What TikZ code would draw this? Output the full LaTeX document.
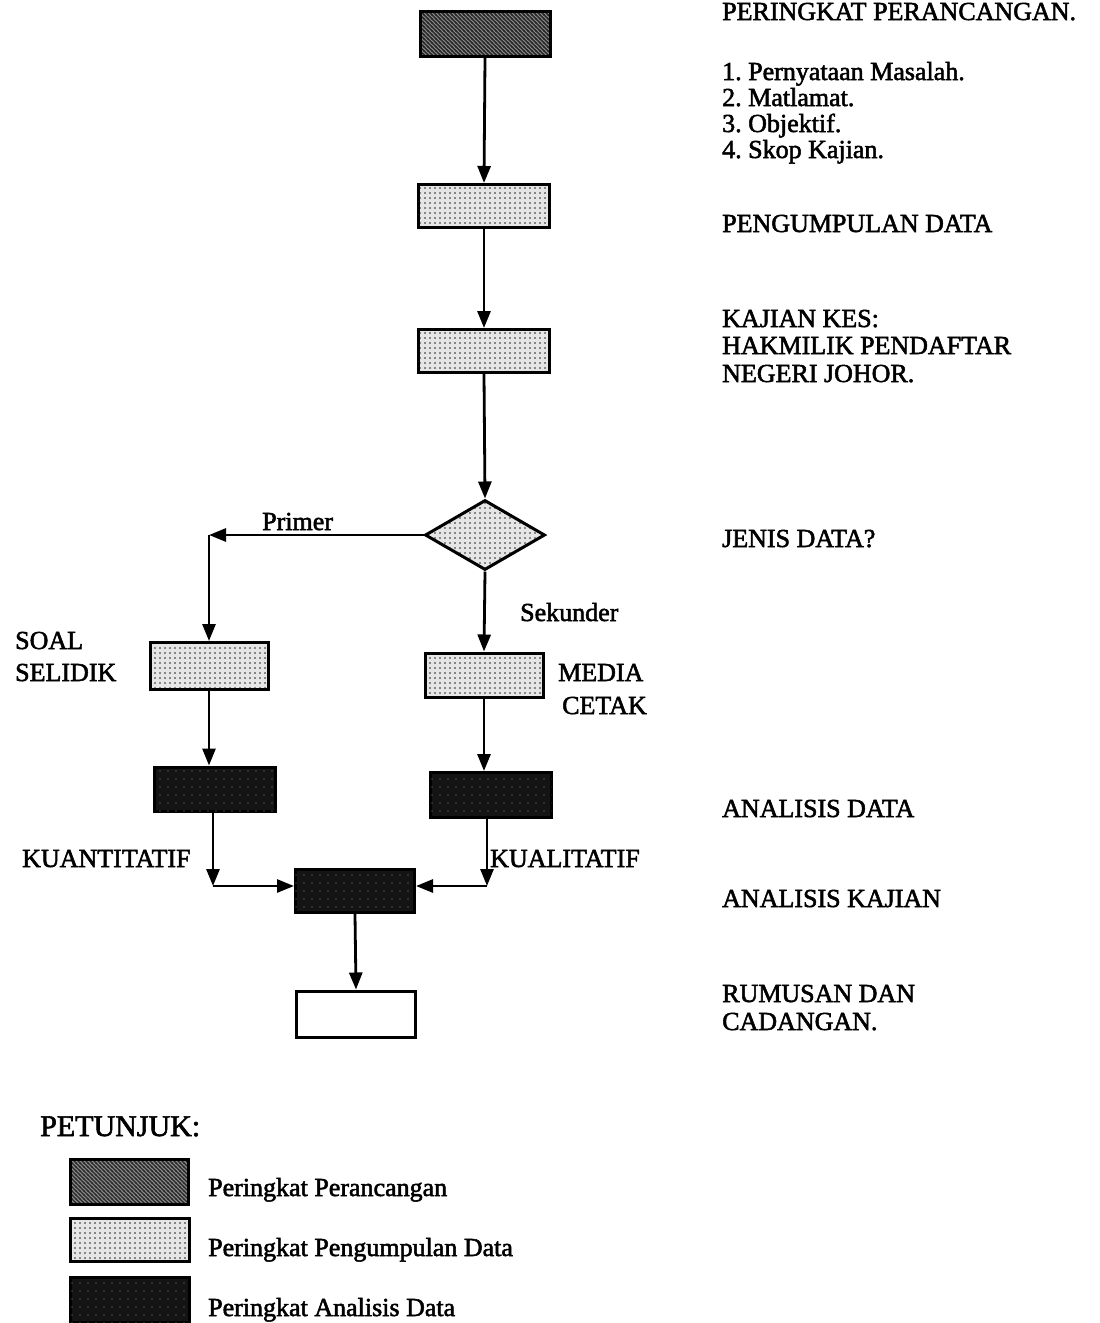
\documentclass[tikz,border=0pt]{standalone}
\usepackage{fontspec}
\setmainfont{Liberation Serif}[FakeBold=2]
\frenchspacing
\usetikzlibrary{shapes.geometric,patterns,arrows.meta,calc}
\pgfdeclarepatternformonly{sdots}{\pgfqpoint{-1pt}{-1pt}}{\pgfqpoint{1pt}{1pt}}{\pgfqpoint{5pt}{5pt}}{\pgfpathcircle{\pgfqpoint{0pt}{0pt}}{0.9pt}\pgfusepath{fill}}
\pgfdeclarepatternformonly{wdots}{\pgfqpoint{-1pt}{-1pt}}{\pgfqpoint{1pt}{1pt}}{\pgfqpoint{8pt}{8pt}}{\pgfpathcircle{\pgfqpoint{0pt}{0pt}}{0.7pt}\pgfusepath{fill}}
\pgfdeclarepatternformonly{hatch}{\pgfqpoint{-1pt}{-1pt}}{\pgfqpoint{5pt}{5pt}}{\pgfqpoint{4pt}{4pt}}{\pgfsetlinewidth{1.4pt}\pgfpathmoveto{\pgfqpoint{-1pt}{5pt}}\pgfpathlineto{\pgfqpoint{5pt}{-1pt}}\pgfusepath{stroke}}
\begin{document}
\begin{tikzpicture}[x=1pt,y=-1pt,
  txt/.style={inner sep=0pt, anchor=base west, font=\fontsize{26}{27}\selectfont},
  boxbase/.style={draw, line width=3pt, inner sep=0pt},
  hatchbox/.style={boxbase, preaction={fill=black!45}, pattern=hatch, pattern color=black!85},
  dotbox/.style={boxbase, preaction={fill=black!10}, pattern=sdots, pattern color=black!85},
  darkbox/.style={boxbase, fill=black!92, postaction={pattern=wdots, pattern color=black!45}},
  whitebox/.style={boxbase, fill=white},
  arr/.style={line width=2.8pt, -{Triangle[length=17pt,width=13pt]}}]
\useasboundingbox (0,0) rectangle (1100,1323);
\fill[white] (0,0) rectangle (1100,1323);

% flow boxes
\node[hatchbox, minimum width=130pt, minimum height=45pt] (top) at (485,34) {};
\node[dotbox, minimum width=131pt, minimum height=43pt] (b2) at (484,206) {};
\node[dotbox, minimum width=131pt, minimum height=43pt] (b3) at (484,351) {};
\node[dotbox, shape=diamond, minimum width=120pt, minimum height=70pt] (d) at (485,535) {};
\node[dotbox, minimum width=118pt, minimum height=47pt] (soal) at (209,666) {};
\node[dotbox, minimum width=118pt, minimum height=44pt] (media) at (484,675) {};
\node[darkbox, minimum width=121pt, minimum height=44pt] (a1) at (215,789) {};
\node[darkbox, minimum width=121pt, minimum height=45pt] (a2) at (491,795) {};
\node[darkbox, minimum width=119pt, minimum height=43pt] (ac) at (355,891) {};
\node[whitebox, minimum width=119pt, minimum height=46pt] (rum) at (356,1014) {};

\coordinate (p1) at (209,535);
\coordinate (q1) at (213,886);
\coordinate (q2) at (487,886);

% connectors
\draw[arr] (top.south) -- (b2.north);
\draw[arr] (b2.south) -- (b3.north);
\draw[arr] (b3.south) -- (d.north);
\draw[arr] (d.west) -- (p1);
\draw[arr] (p1) -- (soal.north);
\draw[arr] (d.south) -- (media.north);
\draw[arr] (soal.south) -- (soal.south |- a1.north);
\draw[arr] (media.south) -- (media.south |- a2.north);
\draw[arr] (a1.south -| q1) -- (q1);
\draw[arr] (q1) -- (q1 -| ac.west);
\draw[arr] (a2.south -| q2) -- (q2);
\draw[arr] (q2) -- (q2 -| ac.east);
\draw[arr] (ac.south) -- (rum.north);

% flow labels
\node[txt] (lprimer) at (262,530) {Primer};
\node[txt] (lsek) at (520,621) {Sekunder};
\node[txt] (lsoal1) at (15,649) {SOAL};
\node[txt] (lsoal2) at (15,681) {SELIDIK};
\node[txt] (lmed1) at (558,681) {MEDIA};
\node[txt] (lmed2) at (562,714) {CETAK};
\node[txt] (lkuan) at (22,867) {KUANTITATIF};
\node[txt] (lkual) at (490,867) {KUALITATIF};

% right column
\node[txt] (r1) at (722,20) {PERINGKAT PERANCANGAN.};
\node[txt] (r2) at (722,80) {1. Pernyataan Masalah.};
\node[txt] (r3) at (722,106) {2. Matlamat.};
\node[txt] (r4) at (722,132) {3. Objektif.};
\node[txt] (r5) at (722,158) {4. Skop Kajian.};
\node[txt] (r6) at (722,232) {PENGUMPULAN DATA};
\node[txt] (r7) at (722,327) {KAJIAN KES:};
\node[txt] (r8) at (722,354) {HAKMILIK PENDAFTAR};
\node[txt] (r9) at (722,382) {NEGERI JOHOR.};
\node[txt] (r10) at (722,547) {JENIS DATA?};
\node[txt] (r11) at (722,817) {ANALISIS DATA};
\node[txt] (r12) at (722,907) {ANALISIS KAJIAN};
\node[txt] (r13) at (722,1002) {RUMUSAN DAN};
\node[txt] (r14) at (722,1030) {CADANGAN.};

% legend
\node[txt, font=\fontsize{30}{32}\selectfont] (leg) at (40,1136) {PETUNJUK:};
\node[hatchbox, minimum width=118pt, minimum height=45pt] (k1) at (129,1182) {};
\node[dotbox, minimum width=119pt, minimum height=43pt] (k2) at (129.5,1239.5) {};
\node[darkbox, minimum width=119pt, minimum height=45pt] (k3) at (129.5,1300) {};
\node[txt] (k1t) at (208,1196) {Peringkat Perancangan};
\node[txt] (k2t) at (208,1256) {Peringkat Pengumpulan Data};
\node[txt] (k3t) at (208,1316) {Peringkat Analisis Data};
\end{tikzpicture}
\end{document}
